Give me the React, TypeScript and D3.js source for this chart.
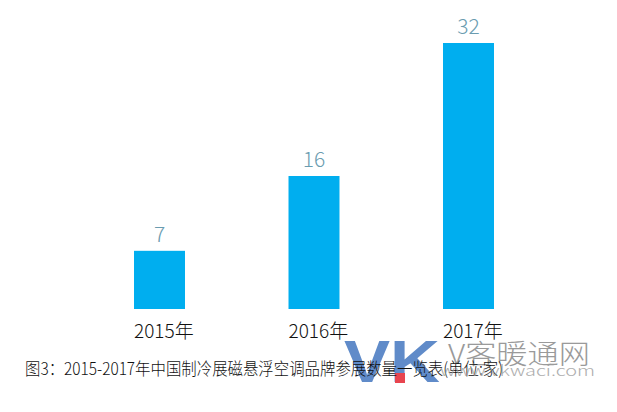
import React from "react";
import * as d3 from "d3";

const categories = ["2015年", "2016年", "2017年"];
const values = [7, 16, 32];
const caption = "图3：2015-2017年中国制冷展磁悬浮空调品牌参展数量一览表(单位:家)";

const W = 617;
const H = 412;

export default function App() {
  const x = d3
    .scaleBand<string>()
    .domain(categories)
    .range([82.25, 545.75])
    .paddingInner(0.67)
    .paddingOuter(0.335);
  const y = d3.scaleLinear().domain([0, 32]).range([309, 43]);
  const font = "'Noto Sans CJK SC', 'Noto Sans', sans-serif";

  return (
    <svg
      width={W}
      height={H}
      viewBox={`0 0 ${W} ${H}`}
      style={{ position: "absolute", left: 0, top: 0, background: "#fff" }}
    >
      <rect x={0} y={0} width={W} height={H} fill="#fff" />
      {categories.map((c, i) => (
        <g key={c}>
          <rect
            x={x(c)}
            y={y(values[i])}
            width={x.bandwidth()}
            height={y(0) - y(values[i])}
            fill="#00aeef"
          />
          <text
            x={(x(c) as number) + x.bandwidth() / 2}
            y={y(values[i]) - 9}
            textAnchor="middle"
            fontFamily={font}
            fontWeight={300}
            fontSize={21}
            fill="#6a9cb0"
          >
            {values[i]}
          </text>
          <text
            x={x(c) as number}
            y={338}
            textAnchor="start"
            fontFamily={font}
            fontWeight={300}
            fontSize={19}
            fill="#111"
          >
            {c}
          </text>
        </g>
      ))}
      {/* watermark */}
      <text
        x={344}
        y={382}
        fontFamily="'Liberation Sans', Arial, sans-serif"
        fontWeight="bold"
        fontSize={60}
        fill="#4f7fc4"
        opacity={0.9}
        textLength={96}
        lengthAdjust="spacingAndGlyphs"
      >
        VK
      </text>
      <text
        x={448}
        y={364}
        fontFamily={font}
        fontWeight={300}
        fontSize={27}
        fill="#9a9a9a"
        textLength={142}
        lengthAdjust="spacingAndGlyphs"
      >
        V客暖通网
      </text>
      <rect x={395} y={373} width={10} height={10} fill="#e8454f" />
      <text
        x={25}
        y={375}
        fontFamily={font}
        fontWeight={300}
        fontSize={17}
        fill="#111"
        textLength={478}
        lengthAdjust="spacingAndGlyphs"
      >
        {caption}
      </text>
      <text
        x={440}
        y={376}
        fontFamily={font}
        fontWeight={300}
        fontSize={15}
        fill="#9a9a9a"
        opacity={0.8}
        textLength={155}
        lengthAdjust="spacingAndGlyphs"
      >
        www.vkwaci.com
      </text>
    </svg>
  );
}
